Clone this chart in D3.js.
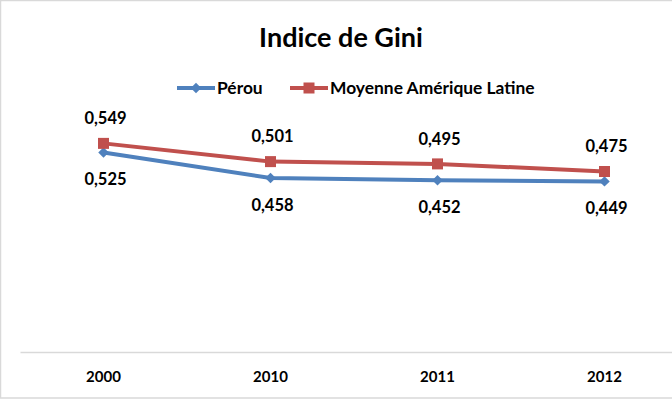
<!DOCTYPE html>
<html>
<head>
<meta charset="utf-8">
<script src="https://cdn.jsdelivr.net/npm/d3@7"></script>
<style>
  html, body { margin: 0; padding: 0; background: #fff; }
  svg { display: block; }
  text { font-family: Lato, "Open Sans", "Liberation Sans", sans-serif; font-weight: bold; fill: #000; }
</style>
</head>
<body>
<svg id="chart" width="672" height="400"></svg>
<script>
const title = "Indice de Gini";
const categories = ["2000", "2010", "2011", "2012"];
const seriesNames = ["Pérou", "Moyenne Amérique Latine"];
const perou = [0.525, 0.458, 0.452, 0.449];
const moyenneAL = [0.549, 0.501, 0.495, 0.475];
const colors = ["#4f81bd", "#c0504d"];

const svg = d3.select("#chart");

// chart border (cropped on the right)
svg.append("rect").attr("x", 0.5).attr("y", 0.5).attr("width", 690).attr("height", 397.5)
  .attr("fill", "#fff").attr("stroke", "#d9d9d9").attr("stroke-width", 1.5);

const x = d3.scaleBand().domain(categories).range([20, 688]).padding(0);
const y = d3.scaleLinear().domain([0, 0.6]).range([352, 124]);
const cx = c => x(c) + x.bandwidth() / 2;

// x axis
const xAxis = d3.axisBottom(x).tickSize(0).tickPadding(19);
const gx = svg.append("g").attr("transform", "translate(0,352)").call(xAxis);
gx.select(".domain").attr("stroke", "#d9d9d9").attr("stroke-width", 1.5);
gx.selectAll("text").attr("font-size", 15).style("font-family", "Lato, sans-serif").style("font-weight", "bold").attr("fill", "#000");

// title
svg.append("text").attr("x", 341).attr("y", 47).attr("text-anchor", "middle")
  .attr("font-size", 27).text(title);

const series = [
  { name: seriesNames[0], values: perou, color: colors[0], marker: "diamond", labelDy: 27 },
  { name: seriesNames[1], values: moyenneAL, color: colors[1], marker: "square", labelDy: -25 }
];

const line = d3.line().x((d, i) => cx(categories[i])).y(d => y(d));

function drawMarker(g, type, px, py, color) {
  if (type === "square") {
    g.append("rect").attr("x", px - 5.5).attr("y", py - 5.5).attr("width", 11).attr("height", 11).attr("fill", color);
  } else {
    g.append("path").attr("d", d3.symbol().type(d3.symbolDiamond2).size(70)()).attr("transform", `translate(${px},${py})`).attr("fill", color);
  }
}

series.forEach(s => {
  const g = svg.append("g");
  g.append("path").datum(s.values).attr("d", line).attr("fill", "none")
    .attr("stroke", s.color).attr("stroke-width", 4).attr("stroke-linejoin", "round");
  s.values.forEach((v, i) => drawMarker(g, s.marker, cx(categories[i]), y(v), s.color));
  s.values.forEach((v, i) => {
    g.append("text").attr("x", cx(categories[i]) + 2).attr("y", y(v) + s.labelDy)
      .attr("dy", "0.35em").attr("text-anchor", "middle").attr("font-size", 16.5)
      .text(d3.format(".3f")(v).replace(".", ","));
  });
});

// legend
const legendItems = [
  { name: seriesNames[0], color: colors[0], marker: "diamond", x0: 177 },
  { name: seriesNames[1], color: colors[1], marker: "square", x0: 290 }
];
legendItems.forEach(l => {
  const g = svg.append("g");
  g.append("line").attr("x1", l.x0).attr("x2", l.x0 + 38).attr("y1", 88).attr("y2", 88)
    .attr("stroke", l.color).attr("stroke-width", 4);
  drawMarker(g, l.marker, l.x0 + 19, 88, l.color);
  g.append("text").attr("x", l.x0 + 40).attr("y", 88).attr("dy", "0.35em").attr("font-size", 17.4).text(l.name);
});
</script>
</body>
</html>
